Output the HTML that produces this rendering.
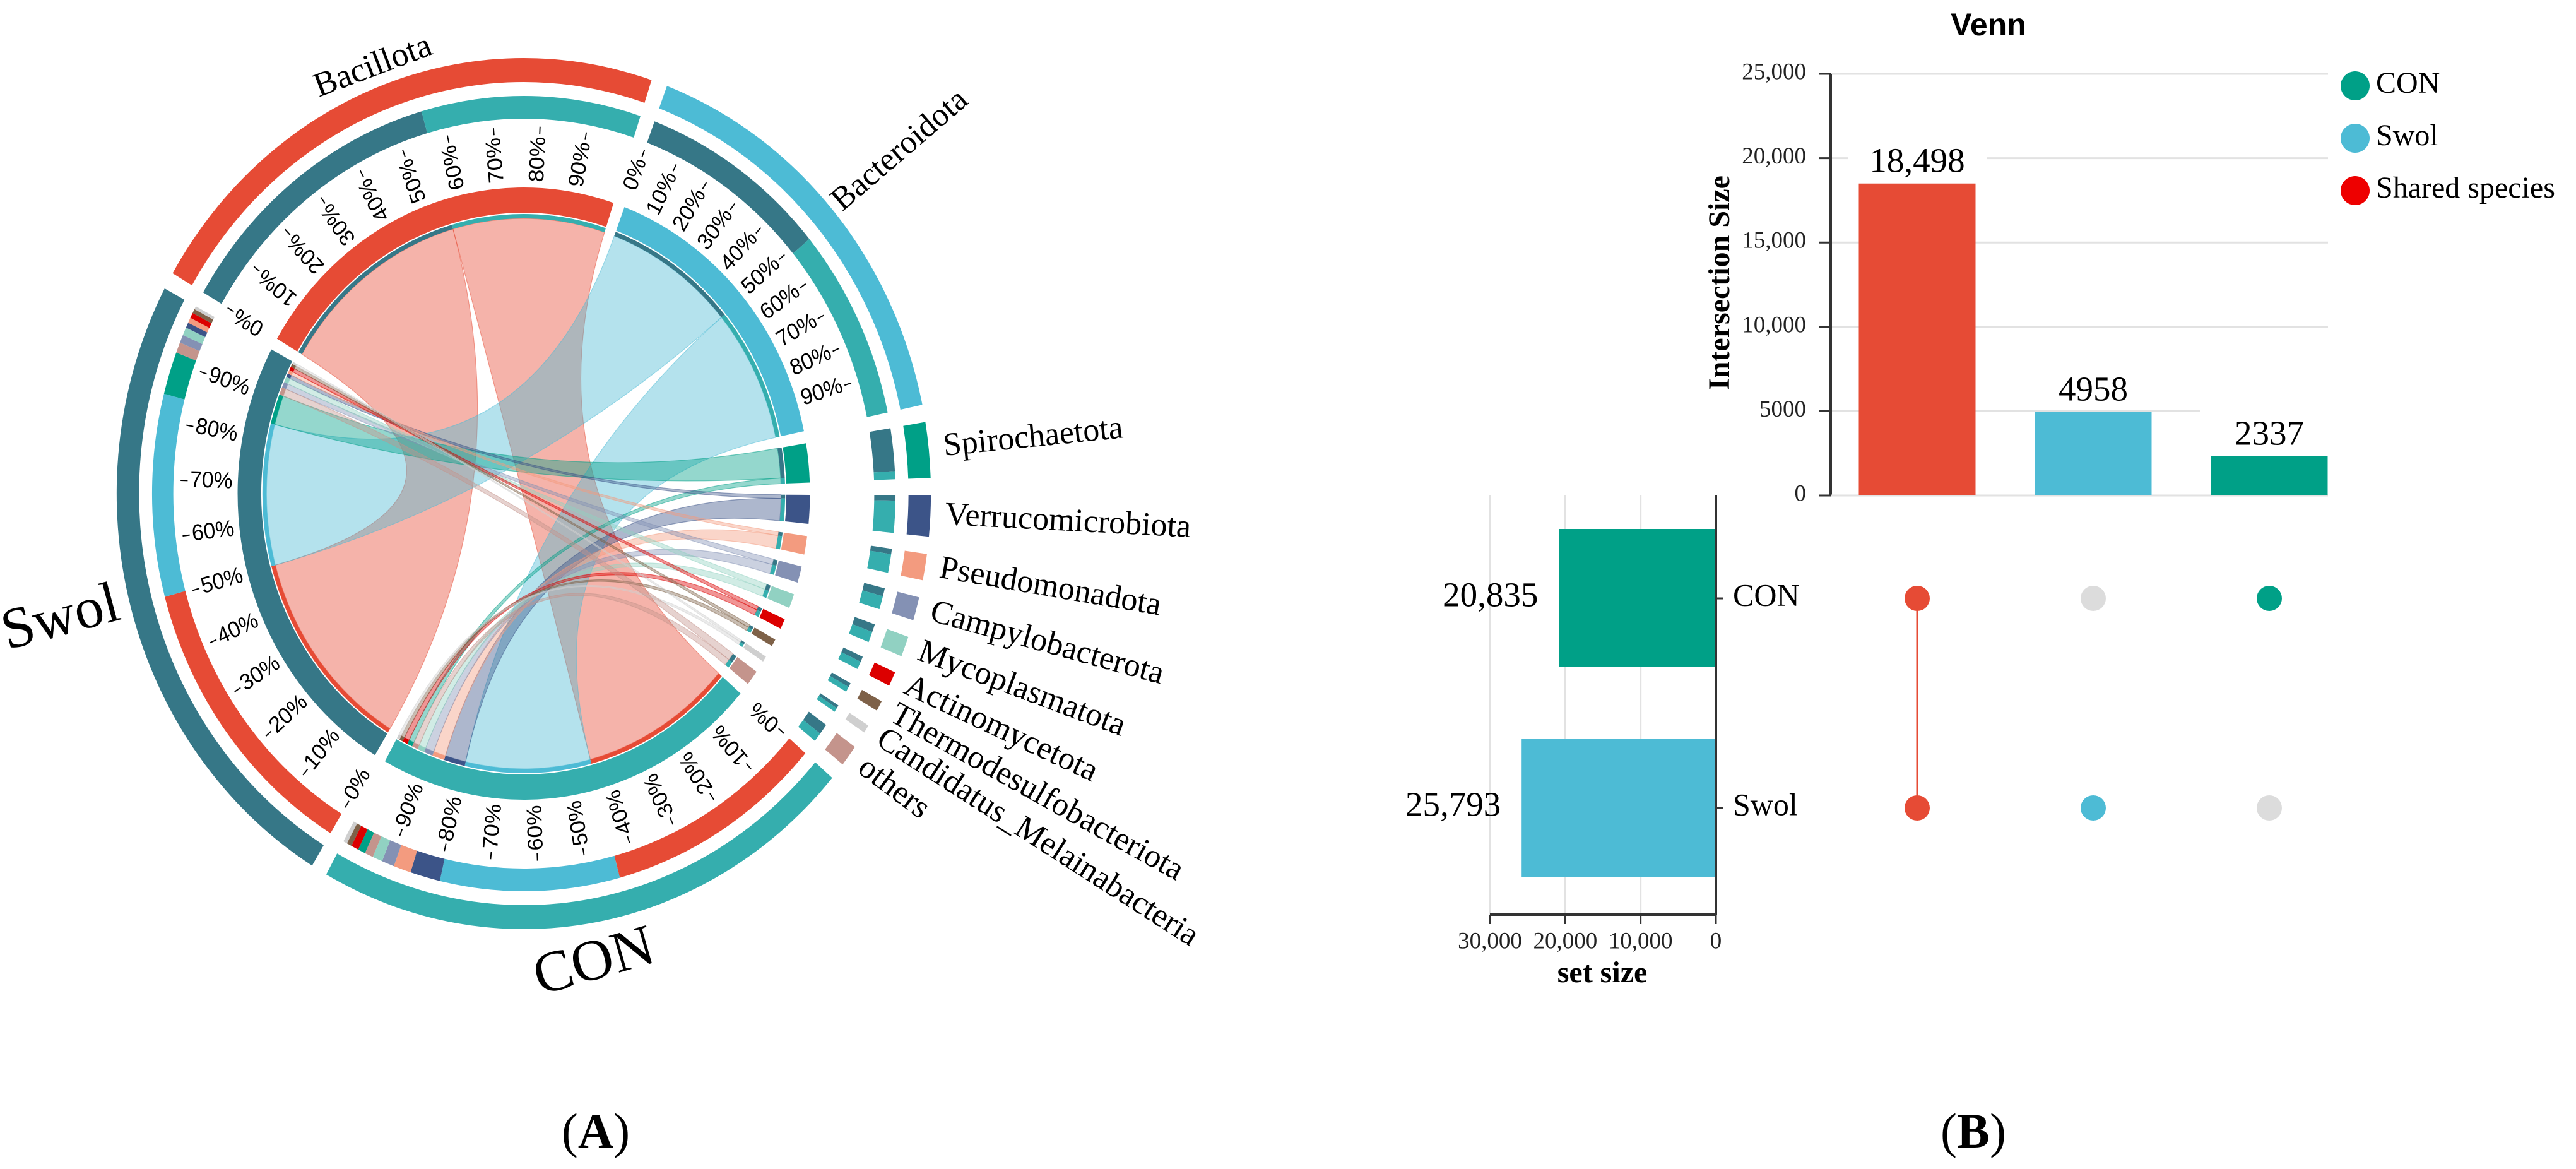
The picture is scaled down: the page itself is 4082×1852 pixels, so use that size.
<!DOCTYPE html>
<html><head><meta charset="utf-8"><style>
html,body{margin:0;padding:0;background:#fff;}
svg{display:block;}
text{font-family:"Liberation Serif",serif;}
.sans{font-family:"Liberation Sans",sans-serif;}
</style></head><body>
<svg id="fig" width="4082" height="1852" viewBox="0 0 4082 1852" xmlns="http://www.w3.org/2000/svg">
<g id="chord"></g>
<g id="upset"></g>
<text x="944" y="1818" font-size="78" text-anchor="middle">(<tspan font-weight="bold">A</tspan>)</text>
<text x="3127" y="1818" font-size="78" text-anchor="middle">(<tspan font-weight="bold">B</tspan>)</text>
</svg>
<script>
// ---------- Chord data ----------
const phyla = ["Bacillota","Bacteroidota","Spirochaetota","Verrucomicrobiota","Pseudomonadota","Campylobacterota","Mycoplasmatota","Actinomycetota","Thermodesulfobacteriota","Candidatus_Melainabacteria","others"];
const phylaColors = ["#E64B35","#4DBBD5","#00A087","#3C5488","#F39B7F","#8491B4","#91D1C2","#DC0000","#7E6148","#CFCFCF","#C4948C"];
const groups = ["CON","Swol"];
const groupColors = ["#35AEAE","#367787"];
const swolValues = [56,38,8,1,1,1.5,1.5,1,0.8,0.6,2];
const conValues  = [44,36,1.5,6,3.5,2.5,2,1.5,1,0.8,1.7];
const pctTicks = ["0%","10%","20%","30%","40%","50%","60%","70%","80%","90%"];

const NS="http://www.w3.org/2000/svg";
function mk(tag,attrs,parent){const e=document.createElementNS(NS,tag);for(const k in attrs)e.setAttribute(k,attrs[k]);if(parent)parent.appendChild(e);return e;}
const CX=830,CY=782,SX=0.935;
const rad=d=>d*Math.PI/180;
const P=(r,a)=>[r*Math.sin(rad(a)),-r*Math.cos(rad(a))];
function ringPath(r1,r2,a1,a2){const l=(a2-a1)>180?1:0;const p1=P(r2,a1),p2=P(r2,a2),p3=P(r1,a2),p4=P(r1,a1);
return `M${p1[0]},${p1[1]}A${r2},${r2} 0 ${l} 1 ${p2[0]},${p2[1]}L${p3[0]},${p3[1]}A${r1},${r1} 0 ${l} 0 ${p4[0]},${p4[1]}Z`;}
function chordPath(R,a1,a2,b1,b2){const A1=P(R,a1),A2=P(R,a2),B1=P(R,b1),B2=P(R,b2);
return `M${A1[0]},${A1[1]}A${R},${R} 0 0 1 ${A2[0]},${A2[1]}Q0,0 ${B1[0]},${B1[1]}A${R},${R} 0 0 1 ${B2[0]},${B2[1]}Q0,0 ${A1[0]},${A1[1]}Z`;}

const chordRoot=document.getElementById('chord');
const g=mk('g',{transform:`translate(${CX},${CY}) scale(${SX},1)`},chordRoot);


const gChords=mk('g',{},g), gRings=mk('g',{},g);

const grpVals=[conValues,swolValues];
const total=swolValues.reduce((a,b)=>a+b,0)+conValues.reduce((a,b)=>a+b,0);
const GAP=2.3;
const unit=(360-13*GAP)/(2*total);
let ang=-59.6;
const phySeg=[];
phyla.forEach((p,i)=>{const s=ang;const sw=swolValues[i]*unit,cn=conValues[i]*unit;
phySeg.push({start:s,end:s+sw+cn,swol:[s,s+sw],con:[s+sw,s+sw+cn]});ang=s+sw+cn+GAP;});
const grpSeg=[];
groups.forEach((gname,gi)=>{const vals=grpVals[gi];const order=vals.map((v,i)=>i).sort((a,b)=>vals[b]-vals[a]);
const s=ang;const segs={};let a=s;order.forEach(i=>{segs[i]=[a,a+vals[i]*unit];a+=vals[i]*unit;});
grpSeg.push({start:s,end:a,segs,order});ang=a+GAP;});

grpSeg.forEach((gs,gi)=>{phyla.forEach((p,i)=>{const ga=gs.segs[i];const pa=gi===0?phySeg[i].con:phySeg[i].swol;
const c=mk('path',{d:chordPath(436,ga[0],ga[1],pa[0],pa[1]),fill:phylaColors[i],'fill-opacity':0.42,stroke:phylaColors[i],'stroke-opacity':0.5,'stroke-width':1.2},gChords);

});});

phySeg.forEach((s,i)=>{
const r1=mk('path',{d:ringPath(445,485,s.start,s.end),fill:phylaColors[i]},gRings);


mk('path',{d:ringPath(436,443,s.swol[0],s.swol[1]),fill:groupColors[1]},gRings);
mk('path',{d:ringPath(436,443,s.con[0],s.con[1]),fill:groupColors[0]},gRings);
const m1=mk('path',{d:ringPath(594,630,s.swol[0],s.swol[1]),fill:groupColors[1]},gRings);


const m2=mk('path',{d:ringPath(594,630,s.con[0],s.con[1]),fill:groupColors[0]},gRings);


const o=mk('path',{d:ringPath(652,690,s.start,s.end),fill:phylaColors[i]},gRings);


});
grpSeg.forEach((s,gi)=>{
const r1=mk('path',{d:ringPath(445,485,s.start,s.end),fill:groupColors[gi]},gRings);


s.order.forEach(i=>{const a=s.segs[i];
mk('path',{d:ringPath(436,443,a[0],a[1]),fill:phylaColors[i]},gRings);
const m=mk('path',{d:ringPath(594,630,a[0],a[1]),fill:phylaColors[i]},gRings);

});
const o=mk('path',{d:ringPath(652,690,s.start,s.end),fill:groupColors[gi]},gRings);


});
function addTicks(s,e,inward,name){pctTicks.forEach((t,k)=>{const a=s+(e-s)*k/10;
const p1=P(570,a),p2=P(582,a);
mk('line',{x1:p1[0],y1:p1[1],x2:p2[0],y2:p2[1],stroke:'#000','stroke-width':2},gRings);
const tx=mk('text',{class:'sans','font-size':36,'dominant-baseline':'middle','text-anchor':inward?'start':'end',
transform:`rotate(${a}) translate(0,-566) rotate(${inward?90:-90})`},gRings);
tx.textContent=t;

});}
addTicks(phySeg[0].start,phySeg[0].end,false,'bacillota');
addTicks(phySeg[1].start,phySeg[1].end,false,'bacteroidota');
addTicks(grpSeg[0].start,grpSeg[0].end,true,'con');
addTicks(grpSeg[1].start,grpSeg[1].end,true,'swol');

const PT=(r,a)=>[CX+SX*r*Math.sin(rad(a)),CY-r*Math.cos(rad(a))];
phyla.forEach((p,i)=>{const s=phySeg[i];const mid=(s.start+s.end)/2;let t;
if(i===0){const q=PT(708,mid);t=mk('text',{'font-size':54,'text-anchor':'middle',transform:`translate(${q[0]},${q[1]}) rotate(${mid})`},chordRoot);}
else{const r=i===1?700:715;const q=PT(r,mid);t=mk('text',{'font-size':52,'text-anchor':'start','dominant-baseline':'middle',transform:`translate(${q[0]},${q[1]}) rotate(${mid-90})`},chordRoot);}
t.textContent=p;

});
const ls=mk('text',{'font-size':92,'text-anchor':'middle',transform:'translate(103,1005) rotate(-15)'},chordRoot);
ls.textContent='Swol';


const lc=mk('text',{'font-size':92,'text-anchor':'middle',transform:'translate(949,1550) rotate(-16)'},chordRoot);
lc.textContent='CON';



// ---------- UpSet data ----------
const interLabels=["18,498","4958","2337"];
const interValues=[18498,4958,2337];
const interColors=["#E64B35","#4DBBD5","#00A087"];
const yTicks=[0,5000,10000,15000,20000,25000];
const yTickLabels=["0","5000","10,000","15,000","20,000","25,000"];
const setNames=["CON","Swol"];
const setValues=[20835,25793];
const setLabels=["20,835","25,793"];
const setColors=["#00A087","#4DBBD5"];
const xTicks=[30000,20000,10000,0];
const xTickLabels=["30,000","20,000","10,000","0"];
const membership=[[1,1],[0,1],[1,0]];
const legendNames=["CON","Swol","Shared species"];
const legendColors=["#00A087","#4DBBD5","#EE0000"];

const U=document.getElementById('upset');
const Y0=785,YTOP=117,YMAX=25000;
const yS=v=>Y0-v/YMAX*(Y0-YTOP);
const AX=2901,colX=[3038,3317,3596],BW=185,GRID_END=3689;
const rowY=[948,1280];
const SX0=2719,SXMAX=30000,SXW=358;
const xS=v=>SX0-v/SXMAX*SXW;

const ti=mk('text',{x:3151,y:56,'font-size':50,'font-weight':'bold','text-anchor':'middle',class:'sans'},U);
ti.textContent='Venn';



yTicks.forEach((v,k)=>{
if(v>0){const gl=mk('line',{x1:AX,x2:GRID_END,y1:yS(v),y2:yS(v),stroke:'#e2e2e2','stroke-width':3},U);

}
mk('line',{x1:AX-19,x2:AX,y1:yS(v),y2:yS(v),stroke:'#333','stroke-width':3},U);
const t=mk('text',{x:AX-39,y:yS(v),'font-size':37,'text-anchor':'end','dominant-baseline':'middle',fill:'#222'},U);
t.textContent=yTickLabels[k];

});
mk('line',{x1:AX,x2:AX,y1:YTOP,y2:Y0,stroke:'#333','stroke-width':4},U);
mk('line',{x1:AX,x2:GRID_END,y1:Y0,y2:Y0,stroke:'#e2e2e2','stroke-width':3},U);
const yt=mk('text',{'font-size':48,'font-weight':'bold','text-anchor':'middle',transform:`translate(2740,${448}) rotate(-90)`},U);
yt.textContent='Intersection Size';



interValues.forEach((v,i)=>{
mk('rect',{x:colX[i]-110,y:yS(v)-75,width:220,height:62,fill:'#fff'},U);
const b=mk('rect',{x:colX[i]-BW/2,y:yS(v),width:BW,height:Y0-yS(v),fill:interColors[i]},U);


const t=mk('text',{x:colX[i],y:yS(v)-18,'font-size':55,'text-anchor':'middle'},U);
t.textContent=interLabels[i];

});

legendNames.forEach((n,i)=>{const y=136+i*83;
const c=mk('circle',{cx:3732,cy:y,r:23,fill:legendColors[i]},U);


const t=mk('text',{x:3765,y:y,'font-size':48,'dominant-baseline':'middle'},U);
t.textContent=n;

});

xTicks.forEach((v,k)=>{
if(v>0){const gl=mk('line',{x1:xS(v),x2:xS(v),y1:785,y2:1449,stroke:'#e2e2e2','stroke-width':3},U);

}
mk('line',{x1:xS(v),x2:xS(v),y1:1449,y2:1464,stroke:'#333','stroke-width':3},U);
const t=mk('text',{x:xS(v),y:1494,'font-size':37,'text-anchor':'middle','dominant-baseline':'middle',fill:'#222'},U);
t.textContent=xTickLabels[k];

});
mk('line',{x1:xS(SXMAX),x2:SX0,y1:1449,y2:1449,stroke:'#333','stroke-width':4},U);
const st=mk('text',{x:2539,y:1556,'font-size':48,'font-weight':'bold','text-anchor':'middle'},U);
st.textContent='set size';


setValues.forEach((v,i)=>{const y=rowY[i];
const b=mk('rect',{x:xS(v),y:y-110,width:SX0-xS(v),height:219,fill:setColors[i]},U);


const t=mk('text',{x:xS(v)-33,y:y,'font-size':55,'text-anchor':'end','dominant-baseline':'middle'},U);
t.textContent=setLabels[i];


mk('line',{x1:SX0,x2:SX0+11,y1:y,y2:y,stroke:'#333','stroke-width':3},U);
const r=mk('text',{x:2746,y:y,'font-size':50,'dominant-baseline':'middle'},U);
r.textContent=setNames[i];

});
mk('line',{x1:SX0,x2:SX0,y1:785,y2:1449,stroke:'#333','stroke-width':4},U);

membership.forEach((m,j)=>{
const ys=rowY.filter((y,i)=>m[i]);
if(ys.length>1){const l=mk('line',{x1:colX[j],x2:colX[j],y1:Math.min(...ys),y2:Math.max(...ys),stroke:interColors[j],'stroke-width':3},U);

}
rowY.forEach((y,i)=>{const c=mk('circle',{cx:colX[j],cy:y,r:20,fill:m[i]?interColors[j]:'#DCDCDC'},U);

});});
</script>
</body></html>
